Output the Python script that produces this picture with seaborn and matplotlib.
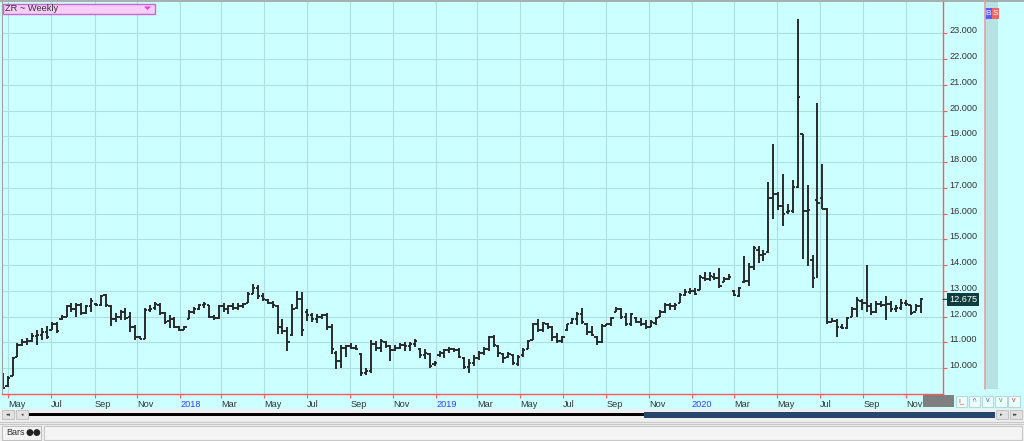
import matplotlib
matplotlib.use("Agg")
import matplotlib.pyplot as plt
import matplotlib.dates as mdates
from matplotlib.patches import Rectangle, Polygon
from matplotlib.lines import Line2D
import pandas as pd
import seaborn as sns

# ZR (rough rice) weekly bars
start_date = "2017-04-23"

opens = [
    9.8, 9.3, 9.7, 10.45, 10.9, 11.0, 11.05, 11.25, 11.3, 11.4,
    11.5, 11.7, 11.9, 12.0, 12.4, 12.3, 12.45, 12.15, 12.4, 12.5,
    12.45, 12.85, 12.4, 11.9, 12.0, 12.2, 12.0, 11.6, 11.2, 11.15,
    12.25, 12.35, 12.45, 12.15, 11.85, 11.9, 11.6, 11.5, 11.9, 12.2,
    12.3, 12.45, 12.45, 12.0, 11.95, 12.4, 12.3, 12.4, 12.35, 12.4,
    12.55, 12.9, 13.1, 12.8, 12.65, 12.55, 12.4, 11.6, 11.45, 11.3,
    12.35, 12.7, 12.2, 12.05, 11.9, 12.0, 12.05, 11.6, 10.6, 10.3,
    10.8, 10.85, 10.8, 10.55, 9.8, 9.9, 10.95, 10.8, 11.0, 10.85,
    10.7, 10.8, 10.9, 10.85, 10.95, 10.75, 10.5, 10.55, 10.15, 10.5,
    10.6, 10.7, 10.75, 10.7, 10.4, 10.05, 10.2, 10.4, 10.6, 10.75,
    11.2, 10.85, 10.55, 10.45, 10.5, 10.15, 10.5, 10.75, 11.1, 11.7,
    11.5, 11.7, 11.6, 11.2, 11.05, 11.5, 11.75, 11.9, 12.1, 11.7,
    11.4, 11.2, 11.0, 11.65, 11.7, 12.2, 12.3, 12.0, 11.7, 11.95,
    11.8, 11.7, 11.6, 11.75, 12.0, 12.2, 12.45, 12.4, 12.55, 12.85,
    12.95, 13.0, 13.05, 13.5, 13.45, 13.55, 13.5, 13.35, 13.45, 13.0,
    12.8, 13.35, 13.4, 13.95, 14.6, 14.4, 14.5, 16.6, 16.75, 16.3,
    16.05, 16.1, 17.05, 19.1, 16.1, 14.2, 16.55, 16.6, 16.2, 11.8,
    11.85, 11.6, 11.55, 12.0, 12.3, 12.6, 12.55, 12.4, 12.2, 12.5,
    12.45, 12.5, 12.3, 12.35, 12.55, 12.45, 12.2, 12.4,
]

highs = [
    9.83, 9.68, 10.45, 10.97, 11.12, 11.16, 11.35, 11.48, 11.55, 11.64,
    11.8, 11.8, 12.06, 12.45, 12.52, 12.54, 12.52, 12.45, 12.71, 12.54,
    12.84, 12.9, 12.45, 12.13, 12.26, 12.32, 12.19, 11.68, 11.25, 12.32,
    12.45, 12.58, 12.52, 12.19, 12.06, 12.0, 11.64, 11.64, 12.28, 12.39,
    12.49, 12.58, 12.45, 12.06, 12.45, 12.52, 12.45, 12.52, 12.52, 12.55,
    12.96, 13.26, 13.22, 12.91, 12.7, 12.61, 12.44, 11.9, 11.61, 12.48,
    13.0, 12.96, 12.29, 12.16, 12.09, 12.09, 12.13, 11.7, 10.67, 10.89,
    10.89, 10.97, 10.89, 10.6, 10.02, 11.1, 11.06, 11.12, 11.06, 10.89,
    10.89, 10.99, 11.02, 11.02, 11.15, 10.8, 10.73, 10.6, 10.28, 10.67,
    10.73, 10.84, 10.8, 10.8, 10.45, 10.34, 10.5, 10.67, 10.84, 11.25,
    11.29, 10.9, 10.58, 10.65, 10.55, 10.52, 10.77, 11.1, 11.77, 11.9,
    11.81, 11.77, 11.64, 11.35, 11.25, 11.72, 11.94, 12.19, 12.32, 11.74,
    11.64, 11.25, 11.72, 11.72, 12.0, 12.39, 12.32, 12.15, 12.15, 12.0,
    11.94, 11.87, 11.87, 12.0, 12.26, 12.52, 12.54, 12.52, 12.93, 13.06,
    13.1, 13.1, 13.63, 13.72, 13.72, 13.69, 13.89, 13.54, 13.67, 13.05,
    13.15, 14.37, 14.08, 14.73, 14.76, 14.6, 17.22, 18.72, 16.83, 17.55,
    16.39, 17.32, 23.55, 19.1, 17.1, 14.41, 20.3, 17.93, 16.22, 11.95,
    11.9, 11.73, 11.98, 12.37, 12.76, 12.68, 14.02, 12.55, 12.6, 12.63,
    12.79, 12.6, 12.46, 12.68, 12.66, 12.46, 12.5, 12.72,
]

lows = [
    9.19, 9.26, 9.68, 10.43, 10.86, 10.9, 11.03, 10.9, 11.1, 11.12,
    11.48, 11.38, 11.87, 12.0, 12.19, 12.0, 12.06, 12.1, 12.19, 12.41,
    12.41, 12.39, 11.64, 11.8, 11.87, 11.87, 11.42, 11.1, 11.12, 11.12,
    12.19, 12.26, 12.06, 11.72, 11.55, 11.55, 11.46, 11.5, 11.9, 12.1,
    12.28, 12.32, 11.94, 11.87, 11.9, 12.19, 12.1, 12.26, 12.26, 12.35,
    12.55, 12.87, 12.68, 12.61, 12.48, 12.35, 11.32, 11.32, 10.67, 11.25,
    12.29, 11.25, 11.83, 11.8, 11.77, 11.9, 11.48, 10.54, 9.96, 10.02,
    10.45, 10.76, 10.71, 9.7, 9.72, 9.83, 10.67, 10.63, 10.8, 10.28,
    10.67, 10.73, 10.67, 10.67, 10.84, 10.41, 10.37, 10.02, 10.09, 10.45,
    10.41, 10.6, 10.63, 10.41, 9.98, 9.83, 10.09, 10.32, 10.5, 10.67,
    10.84, 10.45, 10.22, 10.39, 10.13, 10.09, 10.45, 10.74, 11.1, 11.42,
    11.42, 11.51, 11.07, 10.99, 10.99, 11.46, 11.72, 11.68, 11.72, 11.29,
    11.25, 10.9, 10.97, 11.64, 11.64, 12.19, 11.9, 11.64, 11.64, 11.74,
    11.64, 11.51, 11.59, 11.68, 12.0, 12.15, 12.28, 12.26, 12.54, 12.8,
    12.9, 12.84, 13.02, 13.37, 13.37, 13.43, 13.11, 13.33, 13.41, 12.79,
    12.76, 13.31, 13.18, 13.82, 14.08, 14.15, 14.46, 15.8, 16.14, 15.54,
    16.0, 16.03, 17.0, 14.23, 13.98, 13.11, 13.5, 16.18, 11.73, 11.78,
    11.23, 11.52, 11.52, 11.98, 11.98, 12.27, 12.2, 12.07, 12.14, 12.37,
    11.88, 12.2, 12.2, 12.27, 12.42, 12.07, 12.24, 12.16,
]

closes = [
    9.25, 9.62, 10.4, 10.9, 11.0, 11.05, 11.25, 11.3, 11.4, 11.2,
    11.7, 11.45, 12.0, 12.4, 12.3, 12.45, 12.15, 12.4, 12.6, 12.45,
    12.8, 12.45, 11.9, 12.0, 12.2, 11.95, 11.6, 11.2, 11.15, 12.25,
    12.3, 12.5, 12.15, 11.8, 11.9, 11.6, 11.5, 11.6, 12.2, 12.3,
    12.45, 12.5, 12.0, 11.95, 12.4, 12.3, 12.4, 12.35, 12.4, 12.5,
    12.9, 13.1, 12.8, 12.7, 12.55, 12.45, 11.6, 11.45, 11.0, 12.3,
    12.7, 11.5, 12.05, 11.9, 12.0, 12.05, 11.6, 10.75, 10.3, 10.8,
    10.85, 10.8, 10.75, 9.8, 9.9, 10.95, 10.8, 11.05, 10.85, 10.7,
    10.8, 10.9, 10.85, 10.95, 11.05, 10.5, 10.6, 10.1, 10.2, 10.6,
    10.7, 10.75, 10.7, 10.45, 10.05, 10.2, 10.4, 10.6, 10.75, 11.2,
    10.9, 10.6, 10.4, 10.55, 10.2, 10.45, 10.7, 11.05, 11.7, 11.5,
    11.75, 11.6, 11.2, 11.05, 11.2, 11.7, 11.9, 12.1, 11.8, 11.4,
    11.3, 11.0, 11.65, 11.7, 11.95, 12.3, 12.0, 11.7, 12.1, 11.8,
    11.7, 11.6, 11.8, 11.95, 12.2, 12.45, 12.4, 12.45, 12.85, 12.95,
    13.0, 12.9, 13.55, 13.45, 13.6, 13.5, 13.2, 13.45, 13.55, 12.85,
    13.1, 13.4, 13.95, 14.65, 14.4, 14.45, 16.6, 16.75, 16.3, 16.0,
    16.1, 17.05, 20.55, 16.1, 16.15, 13.5, 16.4, 16.2, 11.8, 11.85,
    11.6, 11.55, 11.95, 12.3, 12.65, 12.55, 12.4, 12.2, 12.5, 12.45,
    12.5, 12.3, 12.35, 12.55, 12.5, 12.15, 12.4, 12.675,
]

last_price = "12.675"
price_ticks = list(range(10, 24))
month_ticks = pd.date_range("2017-05-01", "2020-11-01", freq="2MS")

assert len(opens) == len(highs) == len(lows) == len(closes) == 188

df = pd.DataFrame({
    "date": pd.date_range(start_date, periods=len(closes), freq="7D"),
    "open": opens, "high": highs, "low": lows, "close": closes,
})

# colours
bg = "#ccffff"
grid_c = "#abdfe4"
red = "#ff5a5a"
bar_c = "#2a2a2a"
txt_c = "#333333"
year_c = "#3c3cff"

sns.set_style("white")
plt.rcParams["font.family"] = ["Liberation Sans", "DejaVu Sans"]

W, H = 1024, 441
fig = plt.figure(figsize=(W / 100, H / 100), dpi=100, facecolor=bg)


def px_rect(x0, y0, x1, y1, **kw):
    # rectangle given in screen pixels (y downwards)
    r = Rectangle((x0 / W, 1 - y1 / H), (x1 - x0) / W, (y1 - y0) / H,
                  transform=fig.transFigure, **kw)
    fig.patches.append(r)
    return r


def px_text(x, y, s, **kw):
    return fig.text(x / W, 1 - y / H, s, **kw)


def px_line(xs, ys, **kw):
    fig.lines.append(Line2D([v / W for v in xs], [1 - v / H for v in ys],
                            transform=fig.transFigure, **kw))


ax = fig.add_axes([2 / W, 1 - 394 / H, 941 / W, 393 / H])
ax.set_facecolor(bg)

x = mdates.date2num(df["date"])
half = 3.3  # days
ax.vlines(x, df["low"], df["high"], color=bar_c, lw=1.4)
ax.hlines(df["open"], x - half, x, color=bar_c, lw=1.4)
ax.hlines(df["close"], x, x + half, color=bar_c, lw=1.4)

ax.set_xlim(mdates.date2num(pd.Timestamp("2017-04-22")),
            mdates.date2num(pd.Timestamp("2020-12-24")))
ax.set_ylim(9.0, 24.26)

# x axis: months, years in blue
labels = [str(d.year) if d.month == 1 else d.strftime("%b") for d in month_ticks]
ax.set_xticks(mdates.date2num(month_ticks), labels)
for lab, d in zip(ax.get_xticklabels(), month_ticks):
    lab.set_ha("left")
    lab.set_color(year_c if d.month == 1 else txt_c)
ax.tick_params(axis="x", length=3, width=0.8, color=red, labelsize=6.6, pad=1.2,
               bottom=True)

# y axis on the right, labels sit just above their tick
ax.set_yticks(price_ticks)
ax.yaxis.tick_right()
ax.tick_params(axis="y", length=3, width=0.8, color=red, labelright=False,
               right=True, left=False)
for v in price_ticks:
    ax.annotate(f"{v:.3f}", xy=(1, v), xycoords=("axes fraction", "data"),
                xytext=(6, 0), textcoords="offset pixels", ha="left",
                va="baseline", fontsize=6.6, color=txt_c, annotation_clip=False)

ax.grid(True, color=grid_c, lw=0.8)
ax.set_axisbelow(True)
for side in ["bottom", "right"]:
    ax.spines[side].set_color(red)
    ax.spines[side].set_linewidth(1.0)
ax.spines["left"].set_color("#a0a0a0")
ax.spines["top"].set_visible(False)

# last price tag
ax.annotate(last_price, xy=(1, closes[-1]), xycoords=("axes fraction", "data"),
            xytext=(20, 0), textcoords="offset pixels", ha="center", va="center",
            fontsize=6.6, color="white", annotation_clip=False,
            bbox=dict(boxstyle="square,pad=0.2", fc="#0f3d3d", ec="none"),
            arrowprops=dict(arrowstyle="-", color="#0f3d3d", lw=0.8,
                            shrinkA=0, shrinkB=0))

# top border
px_line([0, W], [0.5, 0.5], color="#a0a0a0", lw=1.2)

# right side strip with B / S buttons
px_rect(985, 1, 998, 389, fc="#b6e2e2", ec="none")
px_line([984.5, 984.5], [1, 389], color="#e6a0a0", lw=1.2)
px_rect(984.5, 7.5, 991.5, 19, fc="#5b5bff", ec="none")
px_rect(991.5, 7.5, 998.5, 19, fc="#f06464", ec="none")
px_text(988, 13.5, "B", color="white", fontsize=6, ha="center", va="center")
px_text(995, 13.5, "S", color="white", fontsize=6, ha="center", va="center")

# title box
px_rect(2.5, 3.5, 154.5, 13.5, fc="#f6cdf6", ec="#cc66cc", lw=1.0)
px_text(5, 8.7, "ZR ~ Weekly", color=txt_c, fontsize=6.7, ha="left", va="center")
fig.patches.append(Polygon([(144 / W, 1 - 6.5 / H), (151 / W, 1 - 6.5 / H),
                            (147.5 / W, 1 - 10 / H)], closed=True,
                           transform=fig.transFigure, fc="#e040e0", ec="none"))

# grey box and small buttons right of the date axis
px_rect(923, 395, 954, 407, fc="#7f7f7f", ec="none")
btn_cols = ["#e03030", "#3040e0", "#3060e0", "#30b030", "#e03030"]
btn_marks = ["ı_", "∩", "v", "v", "v"]
for i, (c, m) in enumerate(zip(btn_cols, btn_marks)):
    bx = 955.5 + i * 13.2
    px_rect(bx, 395.5, bx + 11.5, 406.5, fc="#ecffff", ec="#b8d8d8", lw=0.8)
    px_text(bx + 5.8, 400.5, m, color=c, fontsize=5, ha="center", va="center")

# scroll bar row
px_rect(0, 409, W, H, fc="#efefef", ec="none")
px_rect(2, 410, 14, 418.5, fc="#e2e2e2", ec="#c4c4c4", lw=0.8)
px_rect(16, 410, 28, 418.5, fc="#e2e2e2", ec="#c4c4c4", lw=0.8)
px_text(8, 414.5, "◂◂", fontsize=3.5, ha="center", va="center", color="#444444")
px_text(22, 414.5, "◂", fontsize=3.5, ha="center", va="center", color="#444444")
px_rect(29, 412.5, 645, 415.5, fc="#000000", ec="none")
px_rect(644, 411.5, 995, 417.5, fc="#26466e", ec="none")
px_rect(995.5, 410, 1007.5, 418.5, fc="#e2e2e2", ec="#c4c4c4", lw=0.8)
px_rect(1009.5, 410, 1021.5, 418.5, fc="#e2e2e2", ec="#c4c4c4", lw=0.8)
px_text(1001.5, 414.5, "▸", fontsize=3.5, ha="center", va="center", color="#444444")
px_text(1015.5, 414.5, "▸▸", fontsize=3.5, ha="center", va="center", color="#444444")

# separator and status bar
px_line([0, W], [421.5, 421.5], color="#c8c8c8", lw=0.8)
px_line([0, W], [423.5, 423.5], color="#c8c8c8", lw=0.8)
px_rect(2, 425.5, 41, 439.5, fc="#f4f4f4", ec="#c0c0c0", lw=0.8)
px_text(6, 432.5, "Bars", fontsize=6.5, ha="left", va="center", color=txt_c)
px_text(26, 432.5, "●●", fontsize=6.5, ha="left", va="center", color="#222222",
        family="DejaVu Sans")
px_rect(43.5, 425.5, 1022, 439.5, fc="#f4f4f4", ec="#c8c8c8", lw=0.8)

fig.savefig("out.png", dpi=100, facecolor=fig.get_facecolor())
